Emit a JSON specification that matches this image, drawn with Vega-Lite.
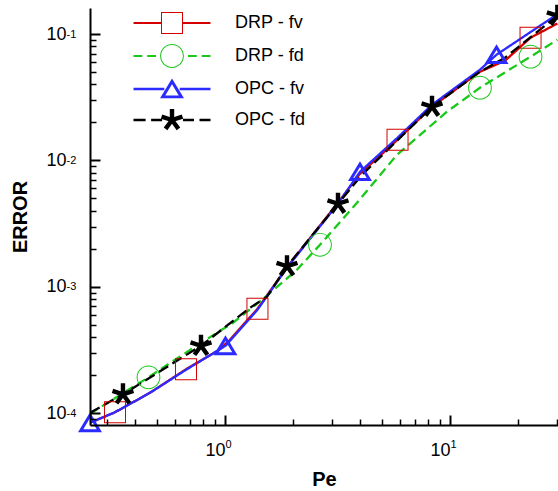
{
  "$schema": "https://vega.github.io/schema/vega-lite/v6.json",
  "width": 468,
  "height": 417,
  "autosize": {"type": "none"},
  "padding": {"left": 90, "top": 8, "right": 0, "bottom": 66},
  "background": "white",
  "config": {"view": {"stroke": null}, "font": "Liberation Sans"},
  "data": {"values": [
    {"s": "DRP - fv", "x": 0.2512, "y": 8.41e-5, "m": 0},
    {"s": "DRP - fv", "x": 0.3244, "y": 1.019e-4, "m": 1},
    {"s": "DRP - fv", "x": 0.4642, "y": 1.453e-4, "m": 0},
    {"s": "DRP - fv", "x": 0.6709, "y": 2.229e-4, "m": 1},
    {"s": "DRP - fv", "x": 0.9309, "y": 3.122e-4, "m": 0},
    {"s": "DRP - fv", "x": 1.0524, "y": 3.815e-4, "m": 0},
    {"s": "DRP - fv", "x": 1.394, "y": 6.709e-4, "m": 1},
    {"s": "DRP - fv", "x": 1.886, "y": 1.43e-3, "m": 0},
    {"s": "DRP - fv", "x": 3.178, "y": 4.627e-3, "m": 0},
    {"s": "DRP - fv", "x": 3.981, "y": 7.848e-3, "m": 0},
    {"s": "DRP - fv", "x": 5.845, "y": 1.458e-2, "m": 1},
    {"s": "DRP - fv", "x": 8.318, "y": 2.659e-2, "m": 0},
    {"s": "DRP - fv", "x": 13.59, "y": 5.03e-2, "m": 0},
    {"s": "DRP - fv", "x": 17.56, "y": 6.148e-2, "m": 0},
    {"s": "DRP - fv", "x": 22.8, "y": 9.35e-2, "m": 1},
    {"s": "DRP - fv", "x": 30, "y": 0.121, "m": 0},
    {"s": "DRP - fd", "x": 0.2512, "y": 9.91e-5, "m": 0},
    {"s": "DRP - fd", "x": 0.4571, "y": 1.926e-4, "m": 1},
    {"s": "DRP - fd", "x": 0.7821, "y": 3.613e-4, "m": 0},
    {"s": "DRP - fd", "x": 1.085, "y": 5.2e-4, "m": 0},
    {"s": "DRP - fd", "x": 1.46, "y": 7.903e-4, "m": 0},
    {"s": "DRP - fd", "x": 2.089, "y": 1.366e-3, "m": 0},
    {"s": "DRP - fd", "x": 2.644, "y": 2.153e-3, "m": 1},
    {"s": "DRP - fd", "x": 3.861, "y": 4.627e-3, "m": 0},
    {"s": "DRP - fd", "x": 5.814, "y": 1.109e-2, "m": 0},
    {"s": "DRP - fd", "x": 9.697, "y": 2.428e-2, "m": 0},
    {"s": "DRP - fd", "x": 13.59, "y": 3.76e-2, "m": 1},
    {"s": "DRP - fd", "x": 22.8, "y": 6.614e-2, "m": 1},
    {"s": "DRP - fd", "x": 30, "y": 9.015e-2, "m": 0},
    {"s": "OPC - fv", "x": 0.2512, "y": 8.41e-5, "m": 1},
    {"s": "OPC - fv", "x": 0.3244, "y": 1.019e-4, "m": 0},
    {"s": "OPC - fv", "x": 0.4642, "y": 1.453e-4, "m": 0},
    {"s": "OPC - fv", "x": 0.6709, "y": 2.208e-4, "m": 0},
    {"s": "OPC - fv", "x": 1.005, "y": 3.42e-4, "m": 1},
    {"s": "OPC - fv", "x": 1.394, "y": 6.588e-4, "m": 0},
    {"s": "OPC - fv", "x": 1.886, "y": 1.416e-3, "m": 0},
    {"s": "OPC - fv", "x": 3.178, "y": 4.543e-3, "m": 0},
    {"s": "OPC - fv", "x": 3.981, "y": 8.14e-3, "m": 1},
    {"s": "OPC - fv", "x": 5.845, "y": 1.512e-2, "m": 0},
    {"s": "OPC - fv", "x": 8.318, "y": 2.758e-2, "m": 0},
    {"s": "OPC - fv", "x": 13.59, "y": 5.218e-2, "m": 0},
    {"s": "OPC - fv", "x": 16.1, "y": 6.86e-2, "m": 1},
    {"s": "OPC - fv", "x": 30, "y": 0.1434, "m": 0},
    {"s": "OPC - fd", "x": 0.2512, "y": 1.009e-4, "m": 0},
    {"s": "OPC - fd", "x": 0.352, "y": 1.4135e-4, "m": 1},
    {"s": "OPC - fd", "x": 0.7821, "y": 3.42e-4, "m": 1},
    {"s": "OPC - fd", "x": 1.292, "y": 6.83e-4, "m": 0},
    {"s": "OPC - fd", "x": 1.537, "y": 8.35e-4, "m": 0},
    {"s": "OPC - fd", "x": 1.886, "y": 1.455e-3, "m": 1},
    {"s": "OPC - fd", "x": 3.178, "y": 4.543e-3, "m": 1},
    {"s": "OPC - fd", "x": 4.064, "y": 7.7e-3, "m": 0},
    {"s": "OPC - fd", "x": 5.814, "y": 1.432e-2, "m": 0},
    {"s": "OPC - fd", "x": 8.318, "y": 2.659e-2, "m": 1},
    {"s": "OPC - fd", "x": 13.59, "y": 5.03e-2, "m": 0},
    {"s": "OPC - fd", "x": 17.56, "y": 6.494e-2, "m": 0},
    {"s": "OPC - fd", "x": 30, "y": 0.1396, "m": 1}
  ]},
  "resolve": {"axis": {"x": "independent", "y": "independent"}},
  "layer": [
    {
      "mark": {"type": "line", "interpolate": "linear", "strokeWidth": 2.3, "clip": true},
      "encoding": {
        "x": {"field": "x", "type": "quantitative",
          "scale": {"type": "log", "domain": [0.2512, 30.2], "nice": false},
          "axis": {"orient": "bottom", "zindex": 1, "values": [1, 10], "labelExpr": "'10'",
            "grid": true, "gridColor": "black", "gridWidth": 2, "gridOpacity": 1, "gridDash": [10, 3000], "gridDashOffset": 2603,
            "ticks": false, "domain": false,
            "labelFont": "Liberation Sans", "labelFontSize": 18, "labelColor": "black",
            "labelAlign": "right", "labelDx": 5, "labelPadding": 16, "labelFlush": false, "labelOverlap": false,
            "title": "Pe", "titleFont": "Liberation Sans", "titleFontSize": 20, "titleFontWeight": "bold",
            "titleColor": "black", "titleY": 54, "titleBaseline": "middle"}},
        "y": {"field": "y", "type": "quantitative",
          "scale": {"type": "log", "domain": [8.08e-5, 0.1606], "nice": false},
          "axis": {"orient": "left", "offset": -10, "zindex": 1, "values": [0.0001, 0.001, 0.01, 0.1], "labelExpr": "'10'",
            "grid": false, "ticks": true, "tickSize": 10, "tickWidth": 2, "tickColor": "black", "tickOpacity": 1,
            "domain": false,
            "labelFont": "Liberation Sans", "labelFontSize": 18, "labelColor": "black",
            "labelAlign": "right", "labelBaseline": "middle", "labelDy": -1, "labelPadding": 24, "labelFlush": false, "labelOverlap": false,
            "title": "ERROR", "titleFont": "Liberation Sans", "titleFontSize": 20, "titleFontWeight": "bold",
            "titleColor": "black", "titleX": -80, "titleBaseline": "middle"}},
        "color": {"field": "s", "type": "nominal",
          "scale": {"domain": ["DRP - fv", "DRP - fd", "OPC - fv", "OPC - fd"], "range": ["#d40000", "#19c819", "#2b2bff", "#000000"]},
          "legend": {"orient": "none", "legendX": 71, "legendY": 4, "title": null, "padding": 0,
            "rowPadding": 10, "symbolSize": 484, "labelOffset": 52,
            "labelFont": "Liberation Sans", "labelFontSize": 18, "labelColor": "black",
            "encode": {"symbols": {"update": {
              "shape": {"signal": "datum.value === 'DRP - fv' ? 'M-3.5,-0.09L-1,-0.09L-1,0.09L-3.5,0.09ZM1,-0.09L3.5,-0.09L3.5,0.09L1,0.09ZM-1,-1L1,-1L1,1L-1,1ZM-0.91,-0.91L-0.91,0.91L0.91,0.91L0.91,-0.91Z' : datum.value === 'DRP - fd' ? 'M-3.5,-0.1L-2.7,-0.1L-2.7,0.1L-3.5,0.1ZM-2.25,-0.1L-1.45,-0.1L-1.45,0.1L-2.25,0.1ZM1.45,-0.1L2.25,-0.1L2.25,0.1L1.45,0.1ZM2.7,-0.1L3.5,-0.1L3.5,0.1L2.7,0.1ZM-1.08,0A1.08,1.08 0 1,1 1.08,0A1.08,1.08 0 1,1 -1.08,0ZM-0.99,0A0.99,0.99 0 1,0 0.99,0A0.99,0.99 0 1,0 -0.99,0Z' : datum.value === 'OPC - fv' ? 'M-3.5,-0.11L-0.7,-0.11L-0.7,0.11L-3.5,0.11ZM0.7,-0.11L3.5,-0.11L3.5,0.11L0.7,0.11ZM-1.09,0.85L0,-0.95L1.09,0.85ZM-0.61,0.58L0.61,0.58L0,-0.428Z' : 'M-3.5,-0.11L-2.4,-0.11L-2.4,0.11L-3.5,0.11ZM-1.9,-0.11L-0.9,-0.11L-0.9,0.11L-1.9,0.11ZM1,-0.11L2,-0.11L2,0.11L1,0.11ZM2.5,-0.11L3.5,-0.11L3.5,0.11L2.5,0.11ZM-0.2,0L-0.2,-1L0.2,-1L0.2,0ZM-0.0618,-0.1902L0.8893,-0.4992L1.0129,-0.1188L0.0618,0.1902ZM0.1618,-0.1176L0.7496,0.6914L0.426,0.9266L-0.1618,0.1176ZM0.1618,0.1176L-0.426,0.9266L-0.7496,0.6914L-0.1618,-0.1176ZM-0.0618,0.1902L-1.0129,-0.1188L-0.8893,-0.4992L0.0618,-0.1902ZM-0.2,-0.2L0.2,-0.2L0.2,0.2L-0.2,0.2Z'"},
              "fill": {"signal": "datum.value === 'DRP - fv' ? '#d40000' : datum.value === 'DRP - fd' ? '#19c819' : datum.value === 'OPC - fv' ? '#2b2bff' : '#000000'"},
              "stroke": {"value": "transparent"},
              "strokeWidth": {"value": 0},
              "strokeDash": {"value": [1, 0]},
              "opacity": {"value": 1},
              "size": {"value": 484}
            }}}
          }},
        "strokeDash": {"field": "s", "type": "nominal",
          "scale": {"domain": ["DRP - fv", "DRP - fd", "OPC - fv", "OPC - fd"], "range": [[1, 0], [9, 5], [1, 0], [11, 5]]},
          "legend": null}
      }
    },
    {
      "transform": [{"filter": "datum.m == 1 && (datum.s === 'DRP - fv' || datum.s === 'DRP - fd')"}],
      "mark": {"type": "point", "filled": true, "size": 484, "opacity": 1, "strokeWidth": 0},
      "encoding": {
        "x": {"field": "x", "type": "quantitative",
          "scale": {"type": "log", "domain": [0.2512, 30.2], "nice": false},
          "axis": {"orient": "bottom", "zindex": 1, "values": [0.3, 0.4, 0.5, 0.6, 0.7, 0.8, 0.9, 2, 3, 4, 5, 6, 7, 8, 9, 20, 30],
            "labels": false, "domain": false, "title": null, "ticks": false,
            "grid": true, "gridColor": "black", "gridWidth": 1.5, "gridOpacity": 1, "gridDash": [6, 3000], "gridDashOffset": 2595}},
        "y": {"field": "y", "type": "quantitative",
          "scale": {"type": "log", "domain": [8.08e-5, 0.1606], "nice": false},
          "axis": {"orient": "left", "offset": -6, "zindex": 1, "values": [0.00009, 0.0002, 0.0003, 0.0004, 0.0005, 0.0006, 0.0007, 0.0008, 0.0009, 0.002, 0.003, 0.004, 0.005, 0.006, 0.007, 0.008, 0.009, 0.02, 0.03, 0.04, 0.05, 0.06, 0.07, 0.08, 0.09],
            "labels": false, "domain": false, "title": null, "grid": false,
            "ticks": true, "tickSize": 6, "tickWidth": 1.5, "tickColor": "black", "tickOpacity": 1}},
        "color": {"field": "s", "type": "nominal", "legend": null,
          "scale": {"domain": ["DRP - fv", "DRP - fd", "OPC - fv", "OPC - fd"], "range": ["#d40000", "#19c819", "#2b2bff", "#000000"]}},
        "shape": {"condition": {"test": "datum.s === 'DRP - fv'", "value": "M-1,-1L1,-1L1,1L-1,1ZM-0.91,-0.91L-0.91,0.91L0.91,0.91L0.91,-0.91Z"},
          "value": "M-1.08,0A1.08,1.08 0 1,1 1.08,0A1.08,1.08 0 1,1 -1.08,0ZM-0.99,0A0.99,0.99 0 1,0 0.99,0A0.99,0.99 0 1,0 -0.99,0Z"}
      }
    },
    {
      "transform": [{"filter": "datum.m == 1 && (datum.s === 'OPC - fv' || datum.s === 'OPC - fd')"}],
      "mark": {"type": "point", "filled": true, "size": 484, "opacity": 1, "strokeWidth": 0},
      "encoding": {
        "x": {"field": "x", "type": "quantitative",
          "scale": {"type": "log", "domain": [0.2512, 30.2], "nice": false},
          "axis": {"orient": "bottom", "zindex": 1, "values": [1, 10], "labelExpr": "'' + round(log(datum.value) / LN10)",
            "ticks": false, "domain": true, "domainWidth": 2, "domainColor": "black", "domainOpacity": 1, "grid": false, "title": null,
            "labelFont": "Liberation Sans", "labelFontSize": 11, "labelColor": "black",
            "labelAlign": "left", "labelDx": 6, "labelPadding": 13, "labelFlush": false, "labelOverlap": false}},
        "y": {"field": "y", "type": "quantitative",
          "scale": {"type": "log", "domain": [8.08e-5, 0.1606], "nice": false},
          "axis": {"orient": "left", "zindex": 1, "values": [0.0001, 0.001, 0.01, 0.1], "labelExpr": "'' + round(log(datum.value) / LN10)",
            "ticks": false, "domain": true, "domainWidth": 2, "domainColor": "black", "domainOpacity": 1, "grid": false, "title": null,
            "labelFont": "Liberation Sans", "labelFontSize": 11, "labelColor": "black",
            "labelAlign": "left", "labelBaseline": "middle", "labelDy": -8, "labelPadding": 24, "labelFlush": false, "labelOverlap": false}},
        "color": {"field": "s", "type": "nominal", "legend": null,
          "scale": {"domain": ["DRP - fv", "DRP - fd", "OPC - fv", "OPC - fd"], "range": ["#d40000", "#19c819", "#2b2bff", "#000000"]}},
        "shape": {"condition": {"test": "datum.s === 'OPC - fv'", "value": "M-1.09,0.85L0,-0.95L1.09,0.85ZM-0.61,0.58L0.61,0.58L0,-0.428Z"},
          "value": "M-0.2,0L-0.2,-1L0.2,-1L0.2,0ZM-0.0618,-0.1902L0.8893,-0.4992L1.0129,-0.1188L0.0618,0.1902ZM0.1618,-0.1176L0.7496,0.6914L0.426,0.9266L-0.1618,0.1176ZM0.1618,0.1176L-0.426,0.9266L-0.7496,0.6914L-0.1618,-0.1176ZM-0.0618,0.1902L-1.0129,-0.1188L-0.8893,-0.4992L0.0618,-0.1902ZM-0.2,-0.2L0.2,-0.2L0.2,0.2L-0.2,0.2Z"}
      }
    }
  ]
}
